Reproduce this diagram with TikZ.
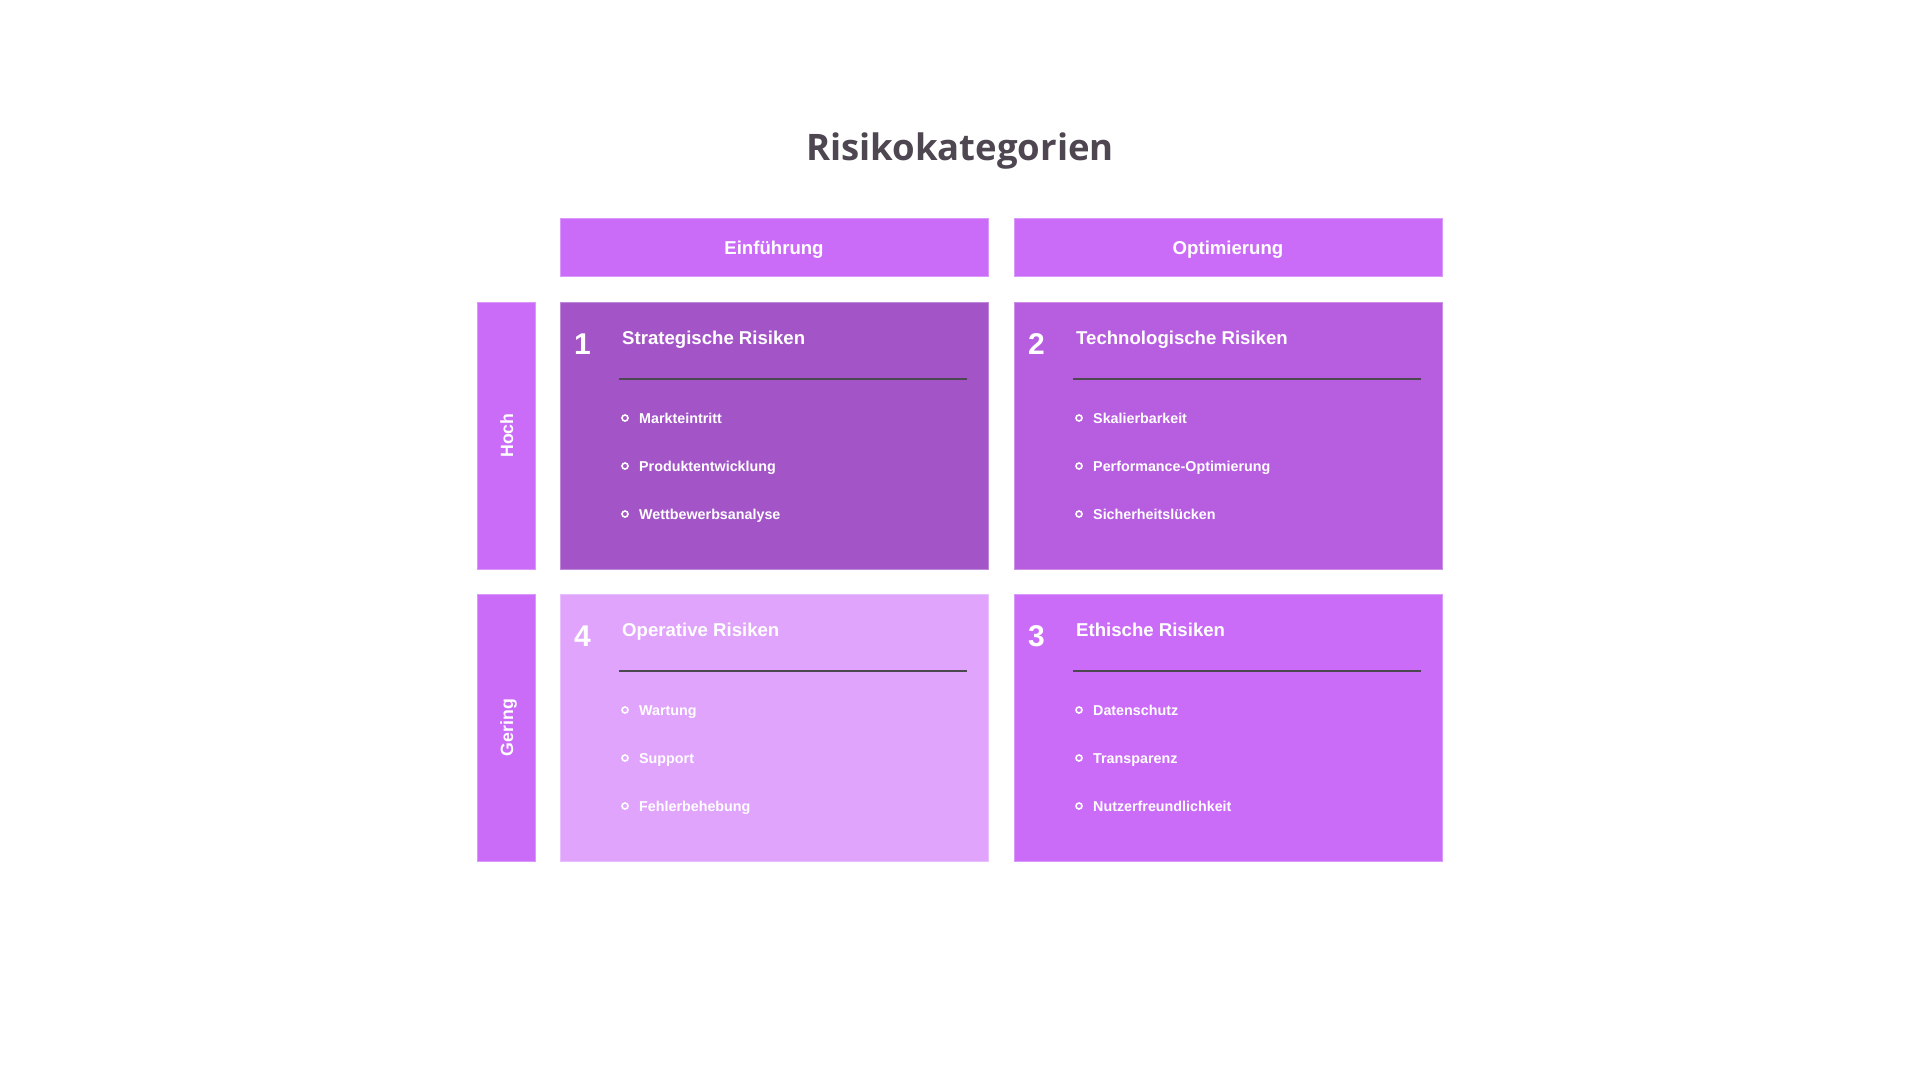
\documentclass[tikz,border=0pt]{standalone}
\usepackage{fontspec}
\setmainfont{Liberation Sans}
\newfontfamily\titlefont{Open Sans}
\usetikzlibrary{calc}
\definecolor{hdr}{HTML}{CB6CF9}
\definecolor{qone}{HTML}{A355C8}
\definecolor{qtwo}{HTML}{B75DE0}
\definecolor{qthree}{HTML}{CB6CF9}
\definecolor{qfour}{HTML}{E1A4FD}
\definecolor{titlecol}{HTML}{4E4651}
\definecolor{sepcol}{HTML}{4B4850}
\tikzset{
  panel/.style={fill=#1, draw=#1!70!white, line width=0.8pt, inner sep=0pt, outer sep=0pt, anchor=north west},
  hdrbox/.style={panel=hdr, minimum width=428pt, minimum height=58pt},
  sidebox/.style={panel=hdr, minimum width=58pt, minimum height=267pt},
  quad/.style={panel=#1, minimum width=428pt, minimum height=267pt},
  hdrtext/.style={text=white, font=\fontsize{18.6}{20}\selectfont\bfseries, anchor=base, inner sep=0pt},
  sidetext/.style={text=white, font=\fontsize{17.7}{20}\selectfont\bfseries, anchor=base, rotate=90, inner sep=0pt},
  numtext/.style={text=white, font=\fontsize{30}{32}\selectfont\bfseries, anchor=base west, inner sep=0pt},
  qtitle/.style={text=white, font=\fontsize{18.6}{20}\selectfont\bfseries, anchor=base west, inner sep=0pt},
  itemtext/.style={text=white, font=\fontsize{14.3}{16}\selectfont\bfseries, anchor=base west, inner sep=0pt},
  bul/.style={circle, draw=white, line width=1.6pt, minimum size=6pt, inner sep=0pt},
  sepline/.style={draw=sepcol, line width=2.2pt},
}
\newcommand{\quadcontent}[6]{%
  \node[numtext] (#1num) at ($(#1.north west)+(14,52)$) {#2};
  \node[qtitle] (#1title) at ($(#1.north west)+(62,42)$) {#3};
  \coordinate (#1sepa) at ($(#1.north west)+(59,77)$);
  \coordinate (#1sepb) at ($(#1.north east)+(-21,77)$);
  \draw[sepline] (#1sepa) -- (#1sepb);
  \node[bul] (#1bA) at ($(#1.north west)+(65,116)$) {};
  \node[itemtext] (#1iA) at ($(#1.north west)+(79,121.5)$) {#4};
  \node[bul] (#1bB) at ($(#1.north west)+(65,164)$) {};
  \node[itemtext] (#1iB) at ($(#1.north west)+(79,169.5)$) {#5};
  \node[bul] (#1bC) at ($(#1.north west)+(65,212)$) {};
  \node[itemtext] (#1iC) at ($(#1.north west)+(79,217.5)$) {#6};
}
\begin{document}
\begin{tikzpicture}[x=1pt,y=-1pt]
\useasboundingbox[fill=white] (0,0) rectangle (1920,1080);
\node[text=titlecol, font=\titlefont\fontsize{36.5}{40}\selectfont\bfseries, anchor=base, inner sep=0pt] (title) at (960,160) {Risikokategorien};

\node[hdrbox] (h1) at (560,218) {};
\node[hdrbox] (h2) at (1014,218) {};
\node[hdrtext] (h1t) at ($(h1.north)+(0,36)$) {Einführung};
\node[hdrtext] (h2t) at ($(h2.north)+(0,36)$) {Optimierung};

\node[sidebox] (s1) at (477,302) {};
\node[sidebox] (s2) at (477,594) {};
\node[sidetext] (s1t) at ($(s1.center)+(7,0)$) {Hoch};
\node[sidetext] (s2t) at ($(s2.center)+(7,0)$) {Gering};

\node[quad=qone] (q1) at (560,302) {};
\node[quad=qtwo] (q2) at (1014,302) {};
\node[quad=qfour] (q4) at (560,594) {};
\node[quad=qthree] (q3) at (1014,594) {};

\quadcontent{q1}{1}{Strategische Risiken}{Markteintritt}{Produktentwicklung}{Wettbewerbsanalyse}
\quadcontent{q2}{2}{Technologische Risiken}{Skalierbarkeit}{Performance-Optimierung}{Sicherheitslücken}
\quadcontent{q4}{4}{Operative Risiken}{Wartung}{Support}{Fehlerbehebung}
\quadcontent{q3}{3}{Ethische Risiken}{Datenschutz}{Transparenz}{Nutzerfreundlichkeit}
\end{tikzpicture}
\end{document}
